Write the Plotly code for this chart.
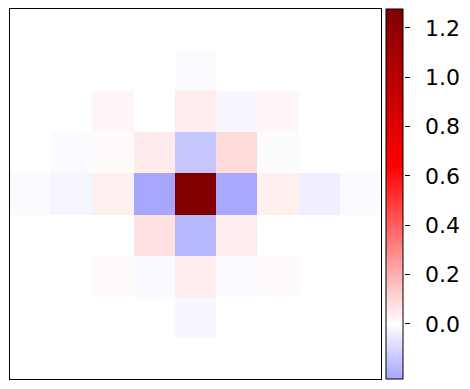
import plotly.graph_objects as go

# 9x9 grid, row 0 at the top
row0 = [0.0, 0.0, 0.0, 0.0, 0.0, 0.0, 0.0, 0.0, 0.0]
row1 = [0.0, 0.0, 0.0, 0.0, -0.013, 0.0, 0.0, 0.0, 0.0]
row2 = [0.0, 0.0, 0.02, 0.0, 0.045, -0.02, 0.02, 0.0, 0.0]
row3 = [0.0, -0.01, 0.01, 0.05, -0.143, 0.088, -0.008, 0.0, 0.0]
row4 = [-0.01, -0.025, 0.038, -0.223, 1.277, -0.218, 0.04, -0.04, -0.01]
row5 = [0.0, 0.0, 0.0, 0.075, -0.178, 0.045, 0.0, 0.0, 0.0]
row6 = [0.0, 0.0, 0.013, -0.015, 0.045, -0.01, 0.013, 0.0, 0.0]
row7 = [0.0, 0.0, 0.0, 0.0, -0.02, 0.0, 0.0, 0.0, 0.0]
row8 = [0.0, 0.0, 0.0, 0.0, 0.0, 0.0, 0.0, 0.0, 0.0]
z = [row0, row1, row2, row3, row4, row5, row6, row7, row8]

cbar_ticks = [0.0, 0.2, 0.4, 0.6, 0.8, 1.0, 1.2]

zmin = min(min(r) for r in z)
zmax = max(max(r) for r in z)
vlim = max(abs(zmin), abs(zmax))


# matplotlib "seismic" with a symmetric norm, cut to the data range
def seismic(v):
    t = 0.5 + v / (2 * vlim)
    if t < 0.25:
        f = t / 0.25
        return (0, 0, 0.3 + 0.7 * f)
    if t < 0.5:
        f = (t - 0.25) / 0.25
        return (f, f, 1)
    if t < 0.75:
        f = (t - 0.5) / 0.25
        return (1, 1 - f, 1 - f)
    f = (t - 0.75) / 0.25
    return (1 - 0.5 * f, 0, 0)


def rgb(c):
    return "rgb(%d,%d,%d)" % tuple(round(255 * x) for x in c)


anchors = [zmin, 0.0, vlim / 2, vlim]
colorscale = [[(v - zmin) / (zmax - zmin), rgb(seismic(v))] for v in anchors]

# plot area is 10..460 px wide; heatmap takes the first 371 px
W = 450.0

fig = go.Figure(go.Heatmap(
    z=z,
    zmin=zmin, zmax=zmax,
    colorscale=colorscale,
    xgap=0, ygap=0,
    colorbar=dict(
        x=376 / W, xanchor="left", xref="paper", xpad=0,
        y=0.5, yanchor="middle", len=1.0, lenmode="fraction", ypad=0,
        thickness=17, outlinewidth=1, outlinecolor="black",
        ticks="", showticklabels=False,
    ),
))
# empty trace so the colorbar scale axis gets drawn
fig.add_trace(go.Scatter(x=[], y=[], yaxis="y2", showlegend=False, hoverinfo="skip"))

fig.update_xaxes(domain=[0, 371 / W], range=[-0.5, 8.5], showticklabels=False, ticks="",
                 showgrid=False, zeroline=False,
                 showline=True, mirror=True, linecolor="black", linewidth=1.2)
fig.update_yaxes(range=[8.5, -0.5], showticklabels=False, ticks="", showgrid=False, zeroline=False,
                 showline=True, mirror=True, linecolor="black", linewidth=1.2)

# colorbar scale drawn as a free axis on the bar's right edge
fig.update_layout(yaxis2=dict(
    overlaying="y", anchor="free", side="right", position=393.5 / W,
    range=[zmin, zmax], tickvals=cbar_ticks, tickformat=".1f",
    ticks="outside", ticklen=5, tickwidth=1, tickcolor="black",
    ticklabelstandoff=11, showgrid=False, zeroline=False, showline=False,
    tickfont=dict(size=22, color="black", family="DejaVu Sans"),
))

fig.update_layout(
    width=470, height=389,
    margin=dict(l=10, r=10, t=9, b=10, autoexpand=False),
    paper_bgcolor="white", plot_bgcolor="white",
    font=dict(family="DejaVu Sans"),
)

# drop the browser's default page margin so the figure sits at (0, 0)
fig.write_html("out.html", config={"displayModeBar": False},
               post_script="document.body.style.margin='0';")
